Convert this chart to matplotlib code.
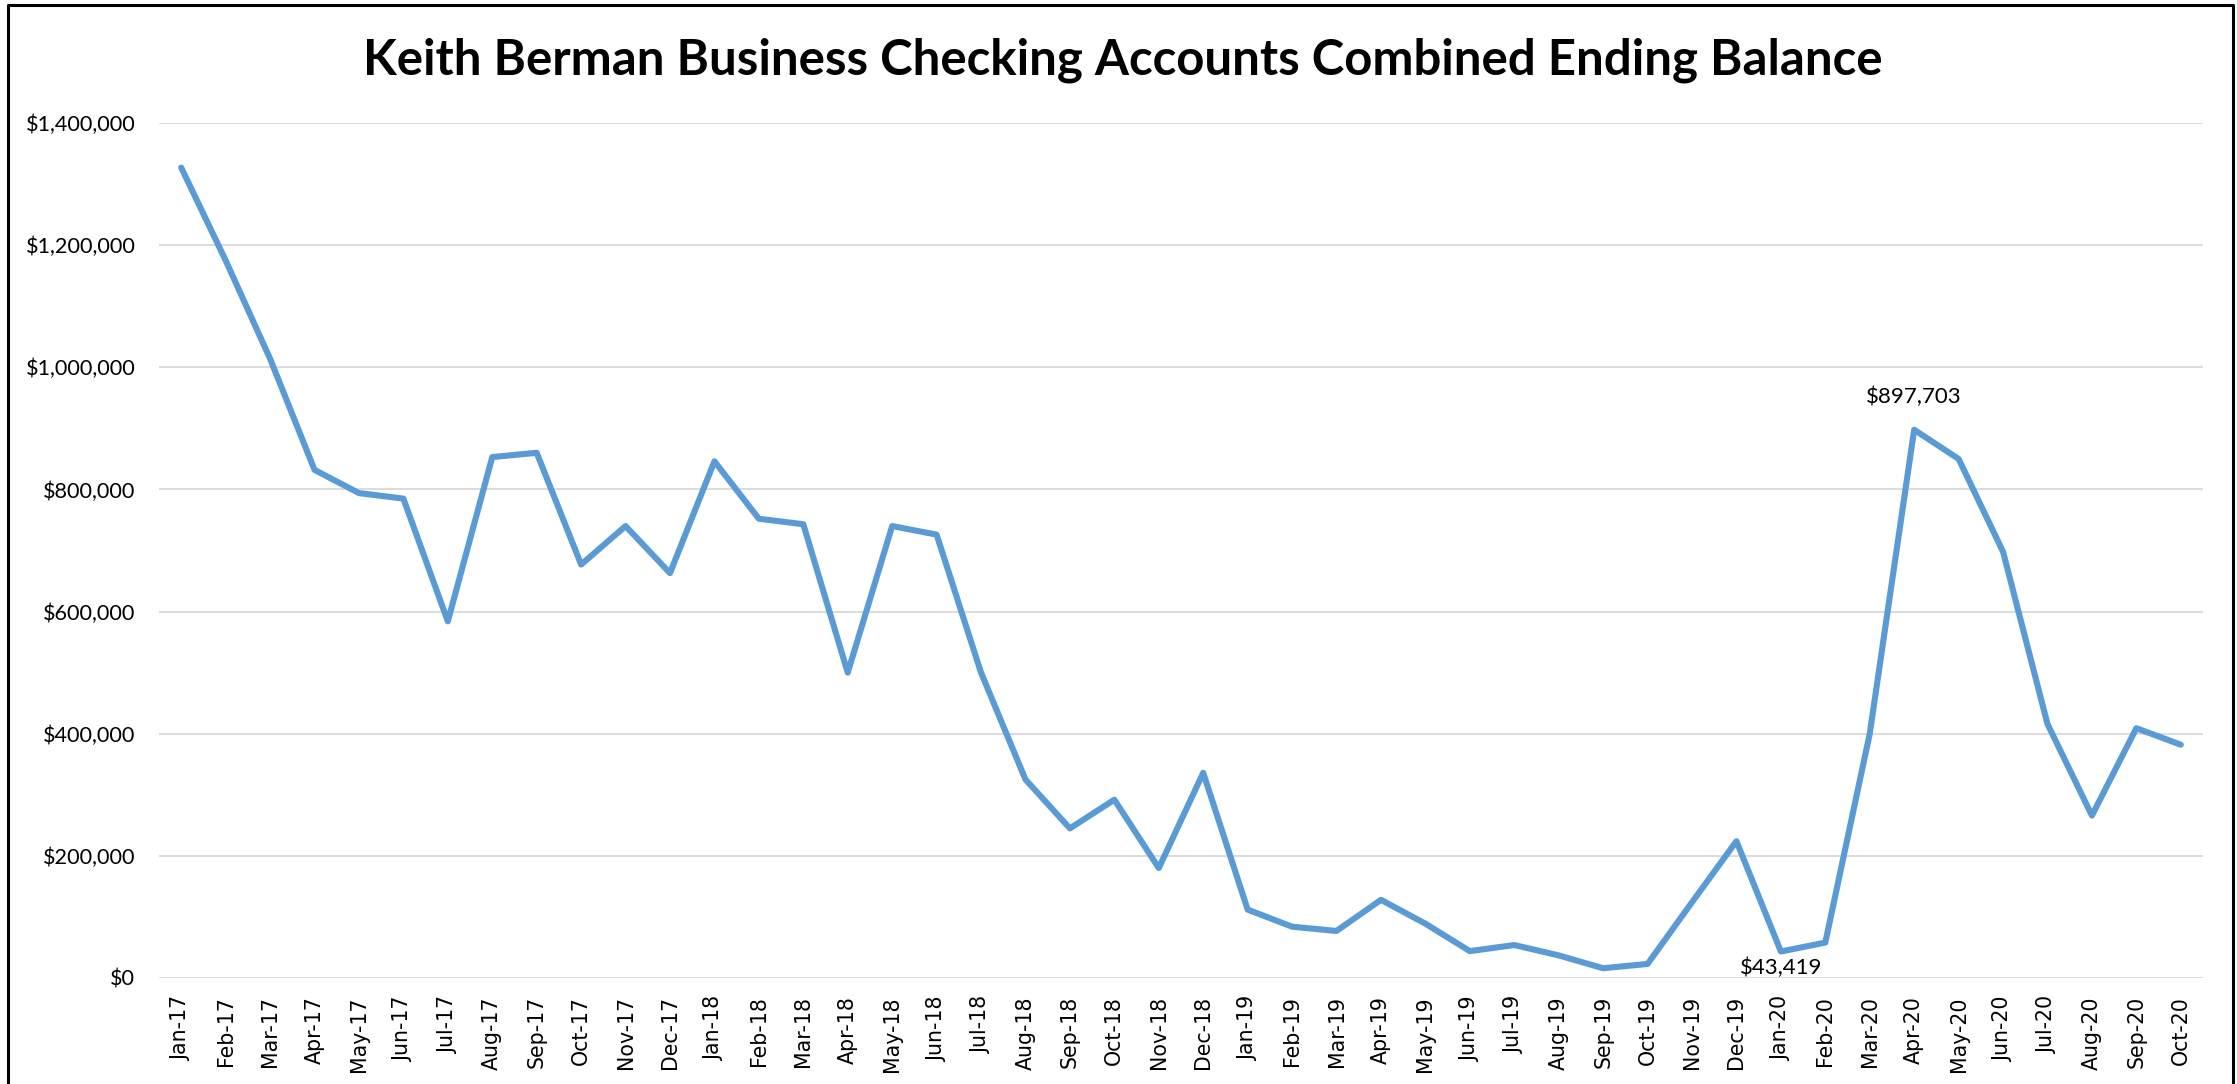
import matplotlib
matplotlib.use("Agg")
import matplotlib.pyplot as plt
from matplotlib import font_manager
from matplotlib.ticker import FuncFormatter, MultipleLocator
from matplotlib.lines import Line2D

names = {f.name for f in font_manager.fontManager.ttflist}
narrow = "Lato" if "Lato" in names else "DejaVu Sans"

months = ["Jan-17", "Feb-17", "Mar-17", "Apr-17", "May-17", "Jun-17", "Jul-17", "Aug-17",
          "Sep-17", "Oct-17", "Nov-17", "Dec-17", "Jan-18", "Feb-18", "Mar-18", "Apr-18",
          "May-18", "Jun-18", "Jul-18", "Aug-18", "Sep-18", "Oct-18", "Nov-18", "Dec-18",
          "Jan-19", "Feb-19", "Mar-19", "Apr-19", "May-19", "Jun-19", "Jul-19", "Aug-19",
          "Sep-19", "Oct-19", "Nov-19", "Dec-19", "Jan-20", "Feb-20", "Mar-20", "Apr-20",
          "May-20", "Jun-20", "Jul-20", "Aug-20", "Sep-20", "Oct-20"]
balance = [1327000, 1175000, 1014000, 832000, 794000, 785000, 584000, 853000,
           860000, 677000, 740000, 663000, 846000, 752000, 743000, 500000,
           740000, 726000, 500000, 325000, 245000, 292000, 180000, 336000,
           112000, 84000, 77000, 128000, 89000, 44000, 54000, 37000,
           16000, 23000, 124000, 224000, 43419, 58000, 400000, 897703,
           850000, 698000, 416000, 266000, 409000, 382000]
labeled = {"Apr-20": "above", "Jan-20": "below"}
title = "Keith Berman Business Checking Accounts Combined Ending Balance"

W, H = 2237, 1084
fig = plt.figure(figsize=(W / 100, H / 100), dpi=100)
fig.patch.set_facecolor("white")
ax = fig.add_axes([159 / W, 1 - 978 / H, (2203 - 159) / W, (978 - 123) / H])

x = list(range(len(months)))
ax.plot(x, balance, color="#5B9BD5", lw=4.4, solid_capstyle="round",
        solid_joinstyle="round", zorder=3)

ax.set_xlim(-0.5, len(months) - 0.5)
ax.set_ylim(0, 1400000)
ax.yaxis.set_major_locator(MultipleLocator(200000))
ax.yaxis.set_major_formatter(FuncFormatter(lambda v, p: f"${v:,.0f}"))
ax.set_xticks(x)
ax.set_xticklabels(months, rotation=90, fontsize=14.8, family="DejaVu Sans", color="black")
for lab in ax.get_yticklabels():
    lab.set_family(narrow)
    lab.set_fontsize(15.6)
ax.tick_params(axis="both", length=0)
ax.tick_params(axis="x", pad=13)
ax.tick_params(axis="y", pad=17)
ax.grid(axis="y", color="#D9D9D9", lw=1.3, zorder=0)
ax.set_axisbelow(True)
for s in ax.spines.values():
    s.set_visible(False)

for i, m in enumerate(months):
    if m in labeled:
        v = balance[i]
        if labeled[m] == "above":
            ax.annotate(f"${v:,.0f}", (i, v), xytext=(0, 24), textcoords="offset points",
                        ha="center", va="center", fontsize=16, family=narrow)
        else:
            ax.annotate(f"${v:,.0f}", (i, v), xytext=(0, -12), textcoords="offset points",
                        ha="center", va="center", fontsize=16, family=narrow)

t = fig.text(1123 / W, 1 - 60 / H, title, ha="center", va="center",
             fontsize=34, fontweight="bold", family=narrow)
fig.canvas.draw()
bb = t.get_window_extent()
t.set_fontsize(34 * 1519 / bb.width)

# outer chart border
fig.add_artist(Line2D([8 / W, 8 / W, 2233 / W, 2233 / W], [-0.01, 1 - 5 / H, 1 - 5 / H, -0.01],
                      transform=fig.transFigure, color="black", lw=2.2))

fig.savefig("out.png", dpi=100)
